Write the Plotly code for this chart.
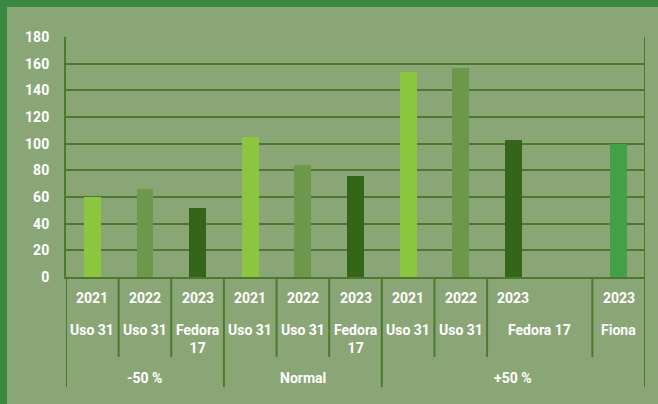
import plotly.graph_objects as go

# chart data, one column per category slot
groups = ["-50 %", "-50 %", "-50 %", "Normal", "Normal", "Normal",
          "+50 %", "+50 %", "+50 %", "+50 %", "+50 %"]
years = ["2021", "2022", "2023", "2021", "2022", "2023",
         "2021", "2022", "2023", "", "2023"]
varieties = ["Uso 31", "Uso 31", "Fedora 17", "Uso 31", "Uso 31", "Fedora 17",
             "Uso 31", "Uso 31", "Fedora 17", "Fedora 17", "Fiona"]
values = [60, 66, 52, 105, 84, 76, 154, 157, 103, None, 100]
y_ticks = [0, 20, 40, 60, 80, 100, 120, 140, 160, 180]

# styling
BG = "#8ba676"
BORDER = "#3a8741"
GRID = "#4a7a2b"
WHITE = "#ffffff"
FONT = "Roboto"
COLORS = {
    ("Uso 31", "2021"): "#8cc63f",
    ("Uso 31", "2022"): "#6d974a",
    ("Fedora 17", "2023"): "#356519",
    ("Fiona", "2023"): "#42a046",
}

W, H = 658, 404
L, R, T, B = 66, 13, 37, 127
PH = H - T - B
PW = W - L - R


def py(pix):
    # pixel row -> paper y
    return (H - B - pix) / PH


idx = list(range(len(values)))
bar_colors = [COLORS.get((v, y), "rgba(0,0,0,0)") for v, y in zip(varieties, years)]

fig = go.Figure(go.Bar(
    x=idx, y=values, width=0.32,
    marker=dict(color=bar_colors, line=dict(width=0)),
    hoverinfo="skip",
))

# variety cells (a blank year continues the previous cell)
cells = []
for i in idx:
    new = (i == 0 or groups[i] != groups[i - 1] or varieties[i] != varieties[i - 1]
           or years[i] != "")
    if new:
        cells.append([varieties[i], i, i])
    else:
        cells[-1][2] = i

group_cells = []
for i in idx:
    if i == 0 or groups[i] != groups[i - 1]:
        group_cells.append([groups[i], i, i])
    else:
        group_cells[-1][2] = i

group_starts = [c[1] for c in group_cells]

shapes = []
ann = []
line = dict(color=GRID, width=2)

# vertical dividers
for lab, s, e in cells:
    bottom = 387 if s in group_starts else 357
    shapes.append(dict(type="line", xref="x", yref="paper", x0=s - 0.5, x1=s - 0.5,
                       y0=0, y1=py(bottom), line=line))
shapes.append(dict(type="line", xref="x", yref="paper", x0=len(idx) - 0.5, x1=len(idx) - 0.5,
                   y0=1, y1=py(387), line=line))

# year labels
for i in idx:
    if years[i]:
        ann.append(dict(x=i, y=py(298), xref="x", yref="paper", text=years[i],
                        showarrow=False, yanchor="middle"))

# variety labels
for lab, s, e in cells:
    txt = lab.replace(" ", "<br>") if (e == s and len(lab) > 6) else lab
    ann.append(dict(x=(s + e) / 2, y=py(320), xref="x", yref="paper", text=txt,
                    showarrow=False, yanchor="top"))

# group labels
for lab, s, e in group_cells:
    ann.append(dict(x=(s + e) / 2, y=py(378), xref="x", yref="paper", text=lab,
                    showarrow=False, yanchor="middle"))

# frame strips at left and top
shapes.append(dict(type="rect", xref="paper", yref="paper", x0=-L / PW, x1=(7 - L) / PW,
                   y0=py(H), y1=py(0), fillcolor=BORDER, line=dict(width=0)))
shapes.append(dict(type="rect", xref="paper", yref="paper", x0=-L / PW, x1=(W - L) / PW,
                   y0=py(7), y1=py(0), fillcolor=BORDER, line=dict(width=0)))

fig.update_layout(
    width=W, height=H,
    margin=dict(l=L, r=R, t=T, b=B),
    paper_bgcolor=BG, plot_bgcolor=BG,
    font=dict(family=FONT, size=14, color=WHITE, weight=700),
    showlegend=False,
    bargap=0,
    shapes=shapes,
    annotations=ann,
    xaxis=dict(range=[-0.5, len(idx) - 0.5], showticklabels=False, showgrid=False,
               zeroline=False, showline=True, linecolor=GRID, linewidth=2, fixedrange=True),
    yaxis=dict(range=[0, 180], tickvals=y_ticks, showgrid=True, gridcolor=GRID, gridwidth=2,
               zeroline=False, showline=True, linecolor=GRID, linewidth=2,
               ticks="", ticklabelstandoff=12,
               tickfont=dict(family=FONT, size=14, color=WHITE, weight=700)),
)

fig.write_html("out.html", config={"displayModeBar": False},
               post_script="document.body.style.margin='0';")
